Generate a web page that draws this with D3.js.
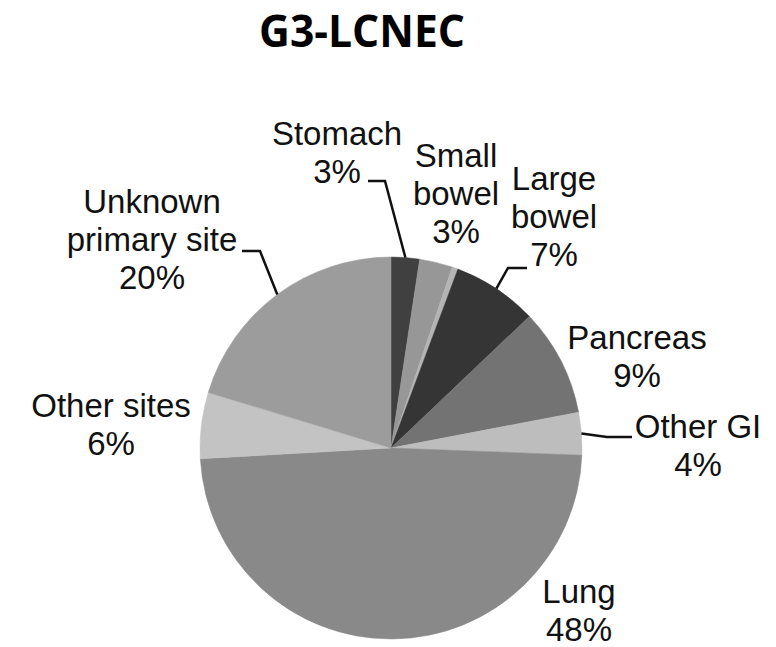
<!DOCTYPE html>
<html>
<head>
<meta charset="utf-8">
<script src="https://cdn.jsdelivr.net/npm/d3@7"></script>
<style>
  html, body { margin: 0; padding: 0; background: #fff; }
  svg { display: block; }
</style>
</head>
<body>
<svg id="chart" width="776" height="647"></svg>
<script>
// ---- Data ----
const title = "G3-LCNEC";
const categories = ["Stomach", "Small bowel", "", "Large bowel", "Pancreas", "Other GI", "Lung", "Other sites", "Unknown primary site"];
const values = [2.4, 2.8, 0.5, 7.2, 9.1, 3.6, 48.5, 5.6, 20.3];
const percentLabels = ["3%", "3%", "", "7%", "9%", "4%", "48%", "6%", "20%"];
const labelLines = [["Stomach"], ["Small", "bowel"], [], ["Large", "bowel"], ["Pancreas"], ["Other GI"], ["Lung"], ["Other sites"], ["Unknown", "primary site"]];
const colors = ["#404040", "#979797", "#b4b4b4", "#353535", "#737373", "#bdbdbd", "#898989", "#c3c3c3", "#9c9c9c"];

// ---- Layout ----
const cx = 391, cy = 448, R = 191;
const fontSize = 33, lineH = 38;
const layout = {
  "Stomach": { x: 337, y: 145, leader: [[368, 181], [385, 181]] },
  "Small bowel": { x: 456, y: 167 },
  "Large bowel": { x: 554, y: 190, leader: [[527, 268], [508, 268]] },
  "Pancreas": { x: 637, y: 349 },
  "Other GI": { x: 698, y: 438, leader: [[632, 437], [607, 437]] },
  "Lung": { x: 579, y: 603 },
  "Other sites": { x: 111, y: 417 },
  "Unknown primary site": { x: 152, y: 213, leader: [[242, 251], [260, 251]] }
};

const svg = d3.select("#chart");

svg.append("text")
  .attr("x", 362).attr("y", 47)
  .attr("text-anchor", "middle")
  .attr("font-family", "'Open Sans', 'DejaVu Sans', sans-serif")
  .attr("font-weight", "bold")
  .attr("font-size", 45)
  .attr("textLength", 206)
  .attr("lengthAdjust", "spacingAndGlyphs")
  .attr("fill", "#000")
  .text(title);

const data = categories.map((c, i) => ({ name: c, value: values[i], pct: percentLabels[i], lines: labelLines[i], color: colors[i] }));

const pie = d3.pie().sort(null).value(d => d.value).startAngle(0).endAngle(2 * Math.PI);
const arc = d3.arc().innerRadius(0).outerRadius(R);
const arcs = pie(data);

const g = svg.append("g").attr("transform", `translate(${cx},${cy})`);
g.selectAll("path").data(arcs).enter().append("path")
  .attr("d", arc)
  .attr("fill", d => d.data.color)
  .attr("stroke", d => d.data.color)
  .attr("stroke-width", 0.5);

const labels = svg.append("g")
  .attr("font-family", "'Liberation Sans', Arial, sans-serif")
  .attr("font-size", fontSize)
  .attr("fill", "#111");

arcs.forEach(a => {
  const d = a.data;
  const L = layout[d.name];
  if (!L) return;
  const t = labels.append("text").attr("text-anchor", "middle");
  const lines = d.lines.concat([d.pct]);
  lines.forEach((ln, i) => {
    t.append("tspan").attr("x", L.x).attr("y", L.y + i * lineH).text(ln);
  });
  if (L.leader) {
    const mid = (a.startAngle + a.endAngle) / 2;
    const edge = [cx + R * Math.sin(mid), cy - R * Math.cos(mid)];
    const pts = L.leader.concat([edge]);
    svg.append("path")
      .attr("d", d3.line()(pts))
      .attr("fill", "none")
      .attr("stroke", "#111")
      .attr("stroke-width", 2.5);
  }
});
</script>
</body>
</html>
